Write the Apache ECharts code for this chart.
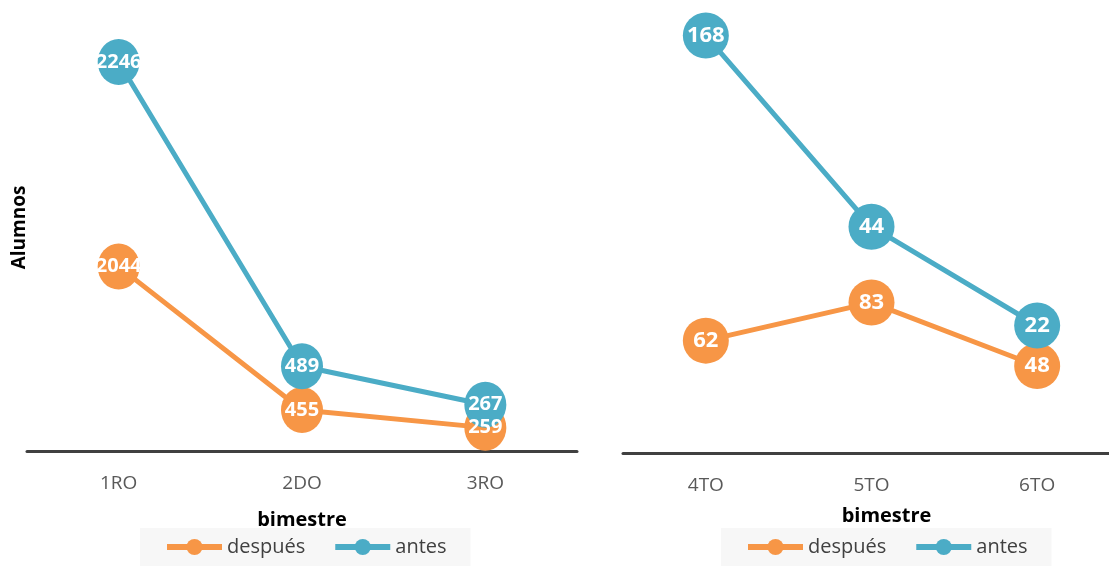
<!DOCTYPE html>
<html>
<head>
<meta charset="utf-8">
<title>Alumnos por bimestre</title>
<script src="https://cdn.jsdelivr.net/npm/echarts@6/dist/echarts.min.js"></script>
<style>
  html, body { margin: 0; padding: 0; background: #fff; }
  #main { width: 1109px; height: 570px; }
</style>
</head>
<body>
<div id="main"></div>
<script>
// categorias de cada panel
const leftCats = ['1RO', '2DO', '3RO'];
const rightCats = ['4TO', '5TO', '6TO'];
const despuesLeft = [2044, 455, 259];
const antesLeft = [2246, 489, 267];
const despuesRight = [62, 83, 48];
const antesRight = [168, 44, 22];
const seriesNames = ['después', 'antes'];

const ORANGE = '#F79646';
const BLUE = '#4BACC6';
const FONT = '"Open Sans", "DejaVu Sans", sans-serif';

var chart = echarts.init(document.getElementById('main'));

function lineSeries(name, color, xi, yi, data, size, fontSize) {
  return {
    name: name,
    type: 'line',
    xAxisIndex: xi,
    yAxisIndex: yi,
    data: data,
    symbol: 'circle',
    symbolSize: size,
    color: color,
    lineStyle: { width: 5, color: color },
    itemStyle: { color: color },
    label: {
      show: true,
      position: 'inside',
      color: '#fff',
      fontWeight: 'bold',
      fontSize: fontSize,
      fontFamily: FONT
    },
    emphasis: { disabled: true },
    animation: false
  };
}

function legendAt(left) {
  return {
    data: seriesNames,
    left: left,
    top: 528,
    orient: 'horizontal',
    itemWidth: 55,
    itemHeight: 20,
    itemGap: 27,
    padding: [9, 24, 9, 24],
    backgroundColor: '#F7F7F7',
    lineStyle: { width: 6 },
    textStyle: { fontSize: 20, color: '#404040', fontFamily: FONT }
  };
}

function catAxis(gi, cats, gap, pad) {
  return {
    type: 'category',
    gridIndex: gi,
    data: cats,
    boundaryGap: true,
    axisLine: { lineStyle: { color: '#404040', width: 3 } },
    axisTick: { show: false },
    axisLabel: { margin: 23, fontSize: 19, color: '#595959', fontFamily: FONT },
    name: 'bimestre',
    nameLocation: 'middle',
    nameGap: gap,
    nameTextStyle: { fontSize: 20, fontWeight: 'bold', color: '#000', fontFamily: FONT, padding: pad }
  };
}

var option = {
  backgroundColor: '#fff',
  legend: [legendAt(140), legendAt(721)],
  grid: [
    { left: 27, width: 550, top: 18, bottom: 119, outerBoundsMode: 'none' },
    // el panel derecho sigue un poco mas alla del borde
    { left: 623, width: 497, top: 18, bottom: 117, outerBoundsMode: 'none' }
  ],
  xAxis: [
    catAxis(0, leftCats, 59, [0, 0, 0, 0]),
    catAxis(1, rightCats, 53, [0, 0, 0, 30])
  ],
  yAxis: [
    // izquierdo: después (solo muestra el nombre)
    {
      type: 'value', gridIndex: 0, min: 0, max: 4800,
      axisLine: { show: false }, axisTick: { show: false },
      axisLabel: { show: false }, splitLine: { show: false },
      name: 'Alumnos', nameLocation: 'middle', nameGap: -2,
      nameTextStyle: { fontSize: 19, fontWeight: 'bold', color: '#000', fontFamily: FONT, padding: [0, 0, 0, 14] }
    },
    // izquierdo: antes
    { type: 'value', gridIndex: 0, min: 0, max: 2500, show: false, splitLine: { show: false } },
    // derecho: después
    { type: 'value', gridIndex: 1, min: 0, max: 240, show: false, splitLine: { show: false } },
    // derecho: antes
    { type: 'log', gridIndex: 1, min: 9, max: 190, show: false, splitLine: { show: false } }
  ],
  series: [
    lineSeries(seriesNames[0], ORANGE, 0, 0, despuesLeft, [42, 46], 20),
    lineSeries(seriesNames[1], BLUE, 0, 1, antesLeft, [42, 46], 20),
    lineSeries(seriesNames[0], ORANGE, 1, 2, despuesRight, 46, 22),
    lineSeries(seriesNames[1], BLUE, 1, 3, antesRight, 46, 22)
  ]
};
chart.setOption(option);
</script>
</body>
</html>
